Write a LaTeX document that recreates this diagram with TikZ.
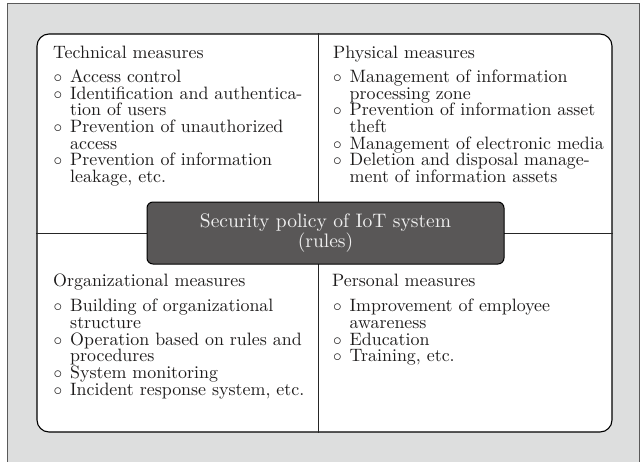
\documentclass[tikz,border=0pt]{standalone}
\usepackage{fontspec}
\setmainfont{lmroman10-regular.otf}

\definecolor{bgpanel}{RGB}{221,222,222}
\definecolor{framegray}{RGB}{90,90,90}
\definecolor{policyfill}{RGB}{89,87,87}
\definecolor{inkdark}{RGB}{30,28,28}

% one bulleted line, and a continuation line indented to the text
\newcommand\itemline[1]{\hbox{\hbox to 17pt{\kern0.3pt$\circ$\hss}#1}}
\newcommand\moreline[1]{\hbox{\hbox to 17pt{\hss}#1}}
% stack of lines at a fixed pitch; baseline is that of the first line
\newcommand\linestack[1]{\vtop{\baselineskip=16.7pt\lineskiplimit=-100pt\lineskip=0pt #1}}

\begin{document}
\begin{tikzpicture}[x=1pt,y=-1pt,
  panel/.style={draw=black, line width=1.1pt, fill=white, rounded corners=12pt,
    minimum width=575pt, minimum height=398pt, inner sep=0pt},
  divider/.style={draw=black!85, line width=1pt},
  heading/.style={anchor=base west, inner sep=0pt, text=inkdark,
    font=\fontsize{17.9}{16.7}\selectfont},
  itemlist/.style={anchor=base west, inner sep=0pt, text=inkdark,
    font=\fontsize{17.9}{16.7}\selectfont},
  policy/.style={draw=black, line width=1pt, fill=policyfill, rounded corners=6pt,
    minimum width=357pt, minimum height=62pt, inner sep=0pt, align=center,
    text=white!94!black, font=\fontsize{19.5}{18.5}\selectfont}]

\clip (0,0) rectangle (643,461);

% grey backdrop
\fill[bgpanel, draw=framegray, line width=1pt] (7.5,3.5) rectangle (639.5,480);

% white panel split into four quadrants
\node[panel] (panel) at (324.5,233) {};
\coordinate (vx) at (318,233);
\coordinate (hy) at (324.5,233);
\draw[divider] (panel.north -| vx) -- (panel.south -| vx);
\draw[divider] (panel.west |- hy) -- (panel.east |- hy);

% technical measures
\node[heading] (techhead) at (53,58) {Technical measures};
\node[itemlist] (techlist) at (53,82.3) {\linestack{%
  \itemline{Access control}
  \itemline{Identification and authentica-}
  \moreline{tion of users}
  \itemline{Prevention of unauthorized}
  \moreline{access}
  \itemline{Prevention of information}
  \moreline{leakage, etc.}}};

% physical measures
\node[heading] (physhead) at (333,58) {Physical measures};
\node[itemlist] (physlist) at (332.5,82.3) {\linestack{%
  \itemline{Management of information}
  \moreline{processing zone}
  \itemline{Prevention of information asset}
  \moreline{theft}
  \itemline{Management of electronic media}
  \itemline{Deletion and disposal manage-}
  \moreline{ment of information assets}}};

% organizational measures
\node[heading] (orghead) at (53,286) {Organizational measures};
\node[itemlist] (orglist) at (53,311.7) {\linestack{%
  \itemline{Building of organizational}
  \moreline{structure}
  \itemline{Operation based on rules and}
  \moreline{procedures}
  \itemline{System monitoring}
  \itemline{Incident response system, etc.}}};

% personal measures
\node[heading] (perhead) at (332,286) {Personal measures};
\node[itemlist] (perlist) at (332.5,311.7) {\linestack{%
  \itemline{Improvement of employee}
  \moreline{awareness}
  \itemline{Education}
  \itemline{Training, etc.}}};

% central policy box
\node[policy] (policy) at (325.5,233) {Security policy of IoT system\\(rules)};
\end{tikzpicture}
\end{document}
